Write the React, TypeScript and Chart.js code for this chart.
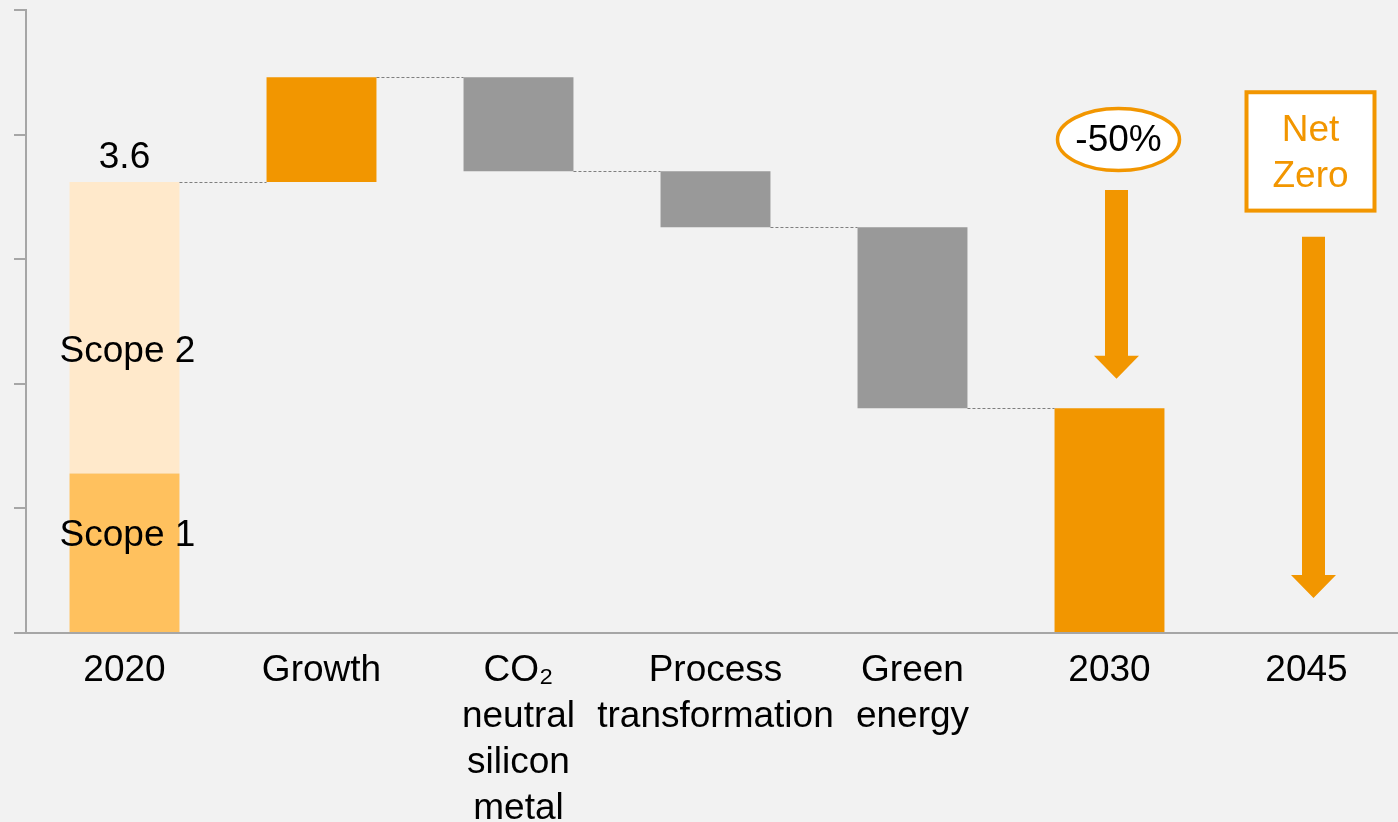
import React, { useEffect, useRef } from "react";
import { Chart, registerables } from "chart.js";

Chart.register(...registerables);

const categories: (string | string[])[] = [
  "2020",
  "Growth",
  ["CO₂", "neutral", "silicon", "metal"],
  ["Process", "transformation"],
  ["Green", "energy"],
  "2030",
  "2045",
];
// Scope 1 part of the 2020 bar
const scope1Values = [1.28, null, null, null, null, null, null];
// running total after each step (emissions level)
const runningTotal = [3.62, 4.46, 3.705, 3.256, 1.804, 1.804, 0];
// which bars are totals (start from zero)
const isTotalBar = [false, false, false, false, false, true, true];
const barColors = ["#FFE9CB", "#F29600", "#999999", "#999999", "#999999", "#F29600", "#F29600"];
const scope1Color = "#FFC15E";
const totalLabel2020 = "3.6";
const scopeLabels = [
  { text: "Scope 2", value: 2.255 },
  { text: "Scope 1", value: 0.78 },
];
const yMin = 0;
const yMax = 5;
const yStep = 1;

const ORANGE = "#F29600";
const FONT = "'Liberation Sans', Arial, sans-serif";
const FS = 37;

// waterfall floating bars built from the running totals
const waterfallData = runningTotal.map((v, i) => {
  if (i === 0) return [scope1Values[0] as number, v];
  if (isTotalBar[i]) return [0, v];
  const prev = runningTotal[i - 1];
  return [Math.min(prev, v), Math.max(prev, v)];
});

function drawArrow(ctx: CanvasRenderingContext2D, cx: number, yTop: number, yBottom: number) {
  const shaftW = 23;
  const headW = 45;
  const headH = 23;
  ctx.beginPath();
  ctx.moveTo(cx - shaftW / 2, yTop);
  ctx.lineTo(cx + shaftW / 2, yTop);
  ctx.lineTo(cx + shaftW / 2, yBottom - headH);
  ctx.lineTo(cx + headW / 2, yBottom - headH);
  ctx.lineTo(cx, yBottom);
  ctx.lineTo(cx - headW / 2, yBottom - headH);
  ctx.lineTo(cx - shaftW / 2, yBottom - headH);
  ctx.closePath();
  ctx.fillStyle = ORANGE;
  ctx.fill();
}

const annotationPlugin = {
  id: "waterfallAnnotations",
  afterDatasetsDraw(chart: any) {
    const ctx: CanvasRenderingContext2D = chart.ctx;
    const xs = chart.scales.x;
    const ys = chart.scales.y;
    const meta = chart.getDatasetMeta(1);
    ctx.save();
    // dashed connectors
    ctx.strokeStyle = "#7f7f7f";
    ctx.lineWidth = 1;
    ctx.setLineDash([3, 2]);
    for (let i = 0; i < 5; i++) {
      const a = meta.data[i];
      const b = meta.data[i + 1];
      const y = Math.round(ys.getPixelForValue(runningTotal[i])) + 0.5;
      ctx.beginPath();
      ctx.moveTo(a.x + a.width / 2, y);
      ctx.lineTo(b.x - b.width / 2, y);
      ctx.stroke();
    }
    ctx.setLineDash([]);

    // 2020 labels
    ctx.fillStyle = "#000";
    ctx.font = `${FS}px ${FONT}`;
    ctx.textAlign = "center";
    ctx.textBaseline = "alphabetic";
    const b0 = meta.data[0];
    ctx.fillText(totalLabel2020, b0.x, ys.getPixelForValue(runningTotal[0]) - 14);
    ctx.textBaseline = "middle";
    scopeLabels.forEach((s) => {
      ctx.fillText(s.text, b0.x + 3, ys.getPixelForValue(s.value));
    });

    // -50% ellipse + arrow (2030)
    const x2030 = xs.getPixelForValue(5);
    const ecx = x2030 + 9;
    const ecy = ys.getPixelForValue(3.96);
    ctx.beginPath();
    ctx.ellipse(ecx, ecy, 61, 31, 0, 0, Math.PI * 2);
    ctx.fillStyle = "#fff";
    ctx.fill();
    ctx.lineWidth = 3.5;
    ctx.strokeStyle = ORANGE;
    ctx.stroke();
    ctx.fillStyle = "#000";
    ctx.font = `${FS}px ${FONT}`;
    ctx.textBaseline = "middle";
    ctx.fillText("-50%", ecx, ecy + 1);
    drawArrow(ctx, x2030 + 7, ys.getPixelForValue(3.555), ys.getPixelForValue(2.04));

    // Net Zero box + arrow (2045)
    const x2045 = xs.getPixelForValue(6);
    const bx = x2045 + 4;
    const top = ys.getPixelForValue(4.34);
    const bottom = ys.getPixelForValue(3.39);
    ctx.fillStyle = "#fff";
    ctx.fillRect(bx - 64, top, 128, bottom - top);
    ctx.lineWidth = 4;
    ctx.strokeStyle = ORANGE;
    ctx.strokeRect(bx - 64, top, 128, bottom - top);
    ctx.fillStyle = ORANGE;
    const mid = (top + bottom) / 2;
    ctx.fillText("Net", bx, mid - 21);
    ctx.fillText("Zero", bx, mid + 25);
    drawArrow(ctx, x2045 + 7, ys.getPixelForValue(3.18), ys.getPixelForValue(0.28));
    ctx.restore();
  },
};

export default function App() {
  const canvasRef = useRef<HTMLCanvasElement | null>(null);

  useEffect(() => {
    const canvas = canvasRef.current;
    if (!canvas) return;
    const chart = new Chart(canvas, {
      type: "bar",
      data: {
        labels: categories as any,
        datasets: [
          {
            label: "Scope 1",
            data: scope1Values.map((v) => (v == null ? null : [0, v])) as any,
            backgroundColor: scope1Color,
            grouped: false,
            order: 0,
          } as any,
          {
            label: "Emissions",
            data: waterfallData as any,
            backgroundColor: barColors,
            grouped: false,
            order: 1,
          } as any,
        ],
      },
      options: {
        animation: false,
        responsive: false,
        maintainAspectRatio: false,
        layout: { padding: { left: 14, top: 10, right: 0, bottom: 0 } },
        datasets: {
          bar: { categoryPercentage: 1, barPercentage: 0.558 },
        } as any,
        plugins: {
          legend: { display: false },
          tooltip: { enabled: false },
        },
        scales: {
          x: {
            grid: { display: false, drawTicks: false },
            border: { display: true, color: "#a6a6a6", width: 2 },
            ticks: {
              color: "#000",
              font: { family: FONT, size: FS, lineHeight: 1.24 },
              padding: 15,
              maxRotation: 0,
              autoSkip: false,
            },
            afterFit: (s: any) => {
              s.height = 189;
            },
          },
          y: {
            min: yMin,
            max: yMax,
            ticks: { stepSize: yStep, display: false },
            grid: {
              drawOnChartArea: false,
              drawTicks: true,
              tickLength: 12,
              color: "#a6a6a6",
              lineWidth: 2,
            },
            border: { display: true, color: "#a6a6a6", width: 2 },
          },
        },
      },
      plugins: [annotationPlugin],
    });
    return () => chart.destroy();
  }, []);

  return (
    <div
      style={{
        position: "fixed",
        left: 0,
        top: 0,
        width: "100vw",
        height: "100vh",
        background: "#f2f2f2",
        overflow: "hidden",
      }}
    >
      <canvas ref={canvasRef} width={1405} height={822} style={{ display: "block" }} />
    </div>
  );
}
